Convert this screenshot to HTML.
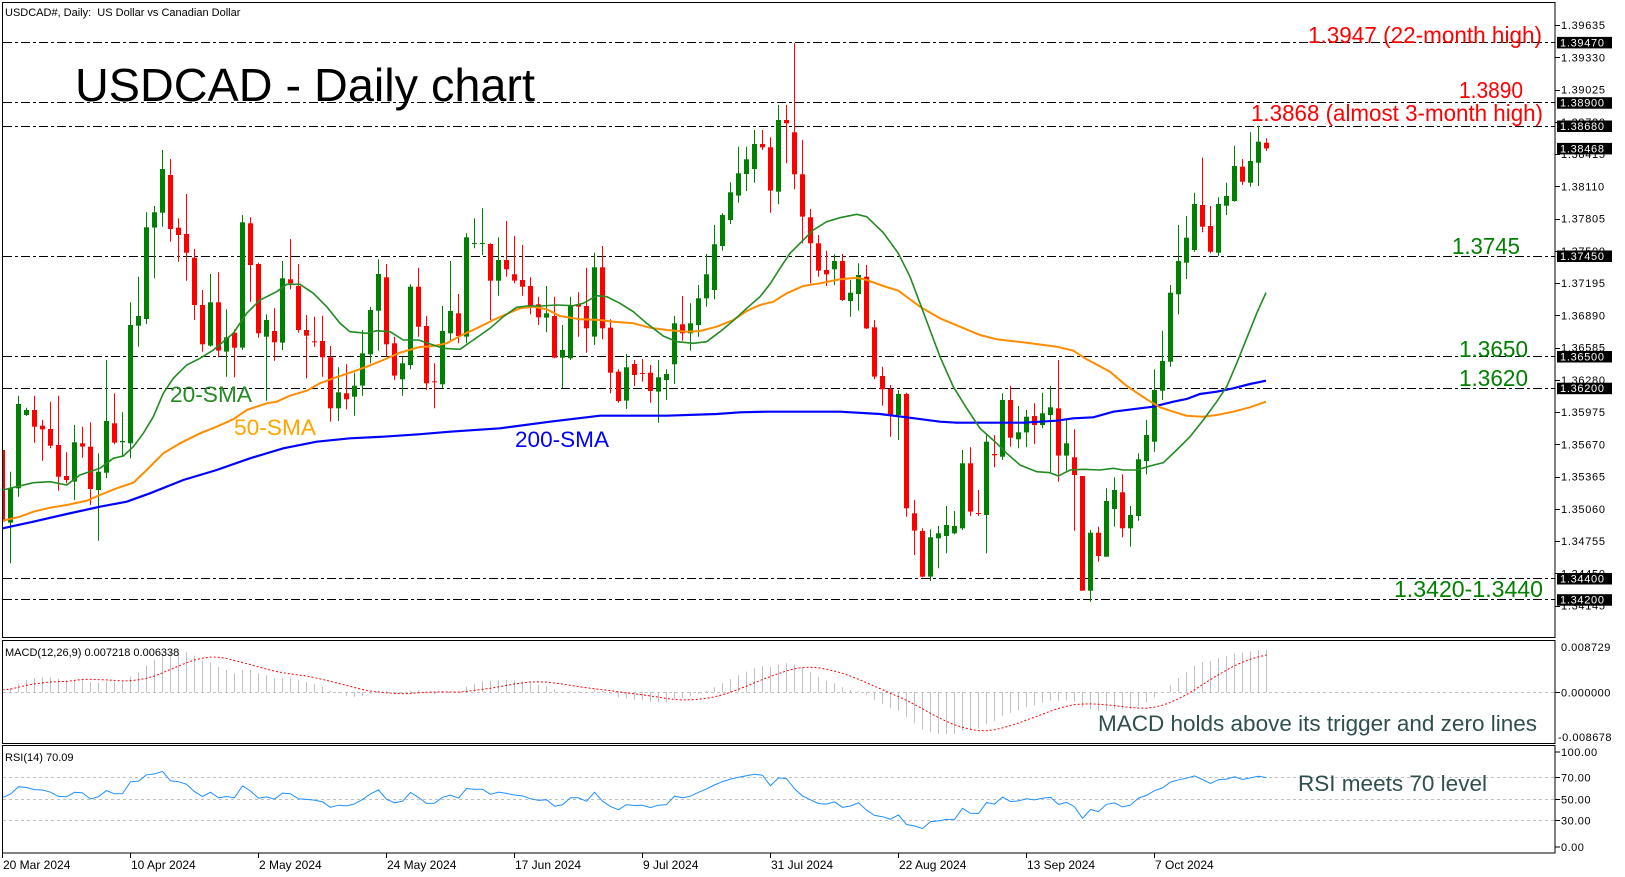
<!DOCTYPE html>
<html><head><meta charset="utf-8">
<style>
html,body{margin:0;padding:0;background:#fff;}
svg{display:block;font-family:"Liberation Sans",Arial,sans-serif;}
</style></head>
<body>
<svg id="s" xmlns="http://www.w3.org/2000/svg" width="1625" height="877" viewBox="0 0 1625 877">
<defs>
<clipPath id="cm"><rect x="3" y="3" width="1552" height="634"/></clipPath>
<clipPath id="cmacd"><rect x="3" y="641" width="1552" height="102"/></clipPath>
<clipPath id="crsi"><rect x="3" y="746" width="1552" height="107"/></clipPath>
</defs>
<rect width="1625" height="877" fill="#fff"/>

<g stroke="#000" stroke-width="1" stroke-dasharray="9,3,3,3" fill="none">
<line x1="3" x2="1555" y1="42.5" y2="42.5"/>
<line x1="3" x2="1555" y1="102.5" y2="102.5"/>
<line x1="3" x2="1555" y1="126.5" y2="126.5"/>
<line x1="3" x2="1555" y1="256.5" y2="256.5"/>
<line x1="3" x2="1555" y1="356.5" y2="356.5"/>
<line x1="3" x2="1555" y1="388.5" y2="388.5"/>
<line x1="3" x2="1555" y1="578.5" y2="578.5"/>
<line x1="3" x2="1555" y1="599.5" y2="599.5"/>
</g>

<g stroke="#c0c0c0" stroke-width="1" stroke-dasharray="3,3">
<line x1="3" x2="1555" y1="692.5" y2="692.5"/>
<line x1="3" x2="1555" y1="777.5" y2="777.5"/>
<line x1="3" x2="1555" y1="799.5" y2="799.5"/>
<line x1="3" x2="1555" y1="820.5" y2="820.5"/>
</g>

<g id="dyn"></g>

<g fill="none" stroke="#000" stroke-width="1">
<rect x="2.5" y="2.5" width="1552.5" height="635"/>
<rect x="2.5" y="640.5" width="1552.5" height="103"/>
<rect x="2.5" y="745.5" width="1552.5" height="107.5"/>
</g>

<text x="5" y="16" font-size="11" fill="#000">USDCAD#, Daily:&#160; US Dollar vs Canadian Dollar</text>
<text x="75" y="101" font-size="46" fill="#000" textLength="460" lengthAdjust="spacingAndGlyphs">USDCAD - Daily chart</text>

<g font-size="23" fill="#ff0000">
<text x="1308" y="43" textLength="234" lengthAdjust="spacingAndGlyphs">1.3947 (22-month high)</text>
<text x="1459" y="98" textLength="64" lengthAdjust="spacingAndGlyphs">1.3890</text>
<text x="1251" y="121" textLength="292" lengthAdjust="spacingAndGlyphs">1.3868 (almost 3-month high)</text>
</g>
<g font-size="23" fill="#008000">
<text x="1452" y="254" textLength="68" lengthAdjust="spacingAndGlyphs">1.3745</text>
<text x="1459" y="357" textLength="69" lengthAdjust="spacingAndGlyphs">1.3650</text>
<text x="1459" y="386" textLength="69" lengthAdjust="spacingAndGlyphs">1.3620</text>
<text x="1394" y="597" textLength="149" lengthAdjust="spacingAndGlyphs">1.3420-1.3440</text>
</g>
<g font-size="22">
<text x="170" y="402" fill="#228b22" textLength="82" lengthAdjust="spacingAndGlyphs">20-SMA</text>
<text x="234" y="435" fill="#ffa500" textLength="82" lengthAdjust="spacingAndGlyphs">50-SMA</text>
<text x="515" y="447" fill="#0000ff" textLength="94" lengthAdjust="spacingAndGlyphs">200-SMA</text>
</g>
<text x="5" y="656" font-size="11" fill="#000">MACD(12,26,9) 0.007218 0.006338</text>
<text x="1098" y="731" font-size="22" fill="#2f4f4f" textLength="439" lengthAdjust="spacingAndGlyphs">MACD holds above its trigger and zero lines</text>
<text x="5" y="761" font-size="11" fill="#000">RSI(14) 70.09</text>
<text x="1298" y="791" font-size="22" fill="#2f4f4f" textLength="189" lengthAdjust="spacingAndGlyphs">RSI meets 70 level</text>

<g id="axis"></g>
</svg>

<script>
(function(){
var dyn=document.getElementById('dyn');
var axis=document.getElementById('axis');
function Y(p){return 25+(1.39635-p)*10574;}
function P(y){return 1.39635-(y-25)/10574;}

var A=[[960,1175,955,1180],[1178,1075,1025,1300],[1075,822,797,1100],[855,840,833,858],[840,890,797,938],[887,898,870,992],[897,947,815,955],[945,1040,797,1082],[1038,1050,967,1060],[1055,937,885,1110],[940,950,890,983],[950,1077,877,1125],[1080,1025,970,1232],[1028,873,690,1045],[880,938,790,943],[937,933,847,980],[940,585,517,985],[587,558,440,650],[567,292,247,582],[293,247,228,445],[248,117,60,290],[135,297,87,335],[293,315,265,395],[312,368,192,452],[383,525,357,570],[525,643,480,665],[647,517,432,650],[517,662,427,682],[665,622,538,740],[608,653,598,742],[653,277,255,660],[280,405,262,515],[402,610,398,623],[620,570,553,812],[603,637,535,692],[638,445,393,660],[448,460,327,478],[468,600,402,608],[600,617,555,745],[634,636,560,650],[633,682,557,740],[682,835,648,875],[835,787,712,873],[790,808,703,838],[800,767,728,857],[767,670,600,797],[673,540,530,700],[542,432,388,662],[442,643,402,680],[640,737,620,750],[748,700,680,797],[705,470,463,718],[470,590,413,620]];
var B=[[888,1060,858,1080],[1054,1057,1000,1135],[1063,903,828,1075],[910,843,693,930],[850,918,792,940],[920,622,610,940],[641,639,565,655],[641,639,535,675],[642,752,640,870],[752,690,622,797],[690,718,573,740],[733,752,618,760],[750,770,645,797],[768,828,742,853],[823,862,800,885],[863,850,768,907],[858,983,800,985],[983,960,885,1075],[985,828,800,990],[823,830,787,920],[828,895,713,968],[920,712,668,945],[712,895,648,928],[893,1028,868,1090],[1025,1113,1018,1118],[1112,1012,972,1137],[1002,1035,990,1068],[1029,1031,987,1055],[1028,1083,1005,1118],[1085,1042,990,1178],[1050,1032,1018,1110],[1003,880,858,1062],[883,910,798,932],[910,880,820,962],[885,805,765,920],[805,733,672,830],[780,643,585,808],[648,555,550,662],[570,487,457,582],[497,430,350,518],[432,388,350,483],[417,342,300,458],[342,352,300,360],[352,482,322,548],[485,270,225,523],[270,280,225,400],[307,433,40,478],[433,560,330,640],[562,640,537,760],[640,722,615,740],[720,733,662,768],[718,693,673,765]];
var C=[[483,600,462,603],[603,578,540,650],[582,525,490,632],[530,685,495,687],[682,830,660,838],[828,868,800,917],[867,945,855,1010],[945,882,870,1020],[882,1225,878,1250],[1240,1292,1200,1365],[1293,1430,1285,1432],[1430,1312,1288,1443],[1315,1300,1278,1405],[1308,1275,1218,1360],[1300,1278,1233,1303],[1285,1090,1050,1290],[1090,1235,1042,1248],[1239,1241,1170,1248],[1245,1025,1000,1360],[1062,1066,1005,1102],[1070,900,880,1080],[900,1013,857,1040],[1018,997,918,1045],[997,950,930,1042],[948,975,910,1032],[975,940,878,985],[945,922,857,1115],[925,1067,780,1145],[1067,1030,960,1112],[1072,1125,988,1292],[1128,1472,1128,1472],[1472,1298,1290,1505],[1298,1368,1280,1385],[1370,1203,1165,1370],[1227,1170,1132,1280],[1177,1285,1123,1312],[1285,1245,1218,1340],[1248,1078,1060,1262],[1083,1005,960,1123],[1025,870,808,1055],[872,783,692,900],[785,578,555,800],[583,483,375,643],[488,413,348,537],[450,312,278,455],[315,380,173,397],[378,455,318,460],[458,312,292,468],[317,288,248,345],[303,198,137,305],[200,245,177,255],[248,183,97,260],[188,125,77,258],[128,145,115,153]];

var bars=[];
A.forEach(function(b){bars.push(b.map(function(v){return 130+v/3;}));});
B.forEach(function(b){bars.push(b.map(function(v){return 30+v/3;}));});
C.forEach(function(b){bars.push(b.map(function(v){return 100+v/3;}));});

function r(v){return Math.round(v*10)/10;}
var h='';

function pts(list,ox,oy){return list.map(function(p){return r(ox+p[0]/3)+','+r(oy+p[1]/3);}).join(' ');}
var s20=pts([[8,1080],[100,1058],[150,1055],[200,1065],[240,1035],[300,1015],[340,985],[370,978],[400,950],[430,910],[460,860],[490,790],[520,745],[560,705],[600,685],[640,660],[700,610],[740,550],[780,510],[830,485],[860,463],[900,463],[940,490],[980,530],[1020,580],[1050,605],[1100,610],[1130,602],[1170,605],[1210,630],[1256,630]],0,130)+' '+
 pts([[100,945],[130,955],[180,958],[220,930],[270,895],[310,860],[350,832],[380,828],[420,828],[470,825],[520,827],[550,820],[590,797],[620,800],[660,820],[700,845],[740,880],[790,918],[830,935],[880,940],[920,935],[960,905],[1000,872],[1040,835],[1080,800],[1110,762],[1140,715],[1170,670],[1200,640],[1240,600],[1280,575],[1320,563]],400,30)+' '+
 pts([[50,343],[80,350],[130,398],[175,460],[210,530],[240,610],[270,690],[300,770],[340,860],[380,925],[420,985],[470,1030],[500,1060],[540,1095],[590,1115],[630,1118],[655,1128],[690,1110],[730,1108],[780,1110],[820,1105],[850,1110],[890,1110],[930,1098],[970,1088],[1010,1050],[1050,1010],[1090,960],[1130,905],[1160,860],[1190,790],[1220,715],[1250,640],[1278,578]],840,100);
var s50=pts([[8,1172],[60,1160],[100,1145],[150,1133],[200,1125],[260,1112],[300,1095],[350,1075],[400,1058],[440,1020],[490,970],[540,940],[600,910],[650,890],[700,868],[740,840],[800,820],[830,815],[870,797],[920,782],[960,760],[1000,745],[1050,728],[1100,710],[1150,690],[1200,668],[1256,652]],0,130)+' '+
 pts([[100,948],[140,940],[180,918],[230,895],[280,870],[320,852],[360,835],[400,830],[440,838],[480,858],[540,868],[600,870],[640,875],[700,880],[750,893],[800,900],[860,905],[900,903],[950,890],[1000,870],[1040,843],[1080,825],[1120,815],[1160,790],[1210,768],[1260,760],[1320,748]],400,30)+' '+
 pts([[50,533],[80,540],[130,558],[175,572],[240,620],[300,655],[360,680],[420,705],[470,718],[560,728],[650,740],[700,752],[740,778],[810,815],[860,858],[920,898],[960,922],[1000,935],[1040,947],[1090,950],[1130,945],[1180,935],[1230,922],[1278,905]],840,100);
var s200=pts([[8,1195],[100,1175],[200,1152],[300,1130],[380,1115],[450,1090],[550,1050],[650,1020],[750,985],[850,955],[950,935],[1050,925],[1150,920],[1256,913]],0,130)+' '+
 pts([[150,1205],[300,1195],[450,1175],[600,1157],[700,1157],[800,1157],[950,1152],[1020,1147],[1100,1145],[1320,1145]],400,30)+' '+
 pts([[120,942],[200,952],[300,965],[350,968],[450,968],[550,968],[650,962],[700,955],[760,952],[820,935],[900,925],[940,920],[1000,905],[1040,897],[1080,882],[1130,875],[1180,865],[1230,852],[1278,842]],840,100);

h+='<g clip-path="url(#cm)">';
bars.forEach(function(b,i){
  var o=b[0],c=b[1],hi=b[2],lo=b[3];
  var cx=8*i+2.5;
  var up=c<=o;
  var col=up?'#008000':'#ff0000';
  h+='<line x1="'+cx+'" y1="'+r(hi)+'" x2="'+cx+'" y2="'+r(lo)+'" stroke="'+col+'" stroke-width="1"/>';
  var top=Math.min(o,c), ht=Math.max(1,Math.abs(o-c));
  h+='<rect x="'+(8*i)+'" y="'+r(top)+'" width="5" height="'+r(ht)+'" fill="'+col+'"/>';
});
h+='<polyline points="'+s200+'" fill="none" stroke="#0000ff" stroke-width="2.2"/>';
h+='<polyline points="'+s50+'" fill="none" stroke="#ff8c00" stroke-width="2"/>';
h+='<polyline points="'+s20+'" fill="none" stroke="#228b22" stroke-width="1.6"/>';
h+='</g>';

var closes=bars.map(function(b){return P(b[1]);});
var e12=closes[0]-0.0004,e26=closes[0]-0.0008,macd=[];
closes.forEach(function(c,i){ e12+=(c-e12)*2/13; e26+=(c-e26)*2/27; macd.push(e12-e26);});
function MY(m){return 641+(0.008729-m)/0.017407*102;}
var sig=[];
macd.forEach(function(m,i){var s=0,n=0;for(var k=Math.max(0,i-8);k<=i;k++){s+=macd[k];n++;}sig.push(s/n);});
h+='<g clip-path="url(#cmacd)">';
var z=MY(0);
macd.forEach(function(m,i){var cx=8*i+2.5;h+='<line x1="'+cx+'" y1="'+r(z)+'" x2="'+cx+'" y2="'+r(MY(m))+'" stroke="#c0c0c0" stroke-width="1"/>';});
h+='<polyline points="'+sig.map(function(s,i){return (8*i+2.5)+','+r(MY(s));}).join(' ')+'" fill="none" stroke="#ff0000" stroke-width="1" stroke-dasharray="2,2"/>';
h+='</g>';

var ag=0.0018,al=0.0017,rsi=[];
closes.forEach(function(c,i){
  if(i>0){var ch=c-closes[i-1];ag=(ag*13+Math.max(ch,0))/14;al=(al*13+Math.max(-ch,0))/14;}
  rsi.push(100-100/(1+ag/al));
});
h+='<g clip-path="url(#crsi)"><polyline points="'+rsi.map(function(v,i){return (8*i+2.5)+','+r(853-1.08*v);}).join(' ')+'" fill="none" stroke="#1e90ff" stroke-width="1"/></g>';
dyn.innerHTML=h;

var a='';
var ticks=[1.39635,1.39330,1.39025,1.38720,1.38415,1.38110,1.37805,1.37500,1.37195,1.36890,1.36585,1.36280,1.35975,1.35670,1.35365,1.35060,1.34755,1.34450,1.34145];
ticks.forEach(function(t){var y=Y(t);a+='<line x1="1555" x2="1560" y1="'+(Math.round(y)+0.5)+'" y2="'+(Math.round(y)+0.5)+'" stroke="#000"/>';
 a+='<text x="1561" y="'+r(y+4)+'" font-size="11" letter-spacing="0.7" fill="#000">'+t.toFixed(5)+'</text>';});
var boxes=[1.39470,1.38900,1.38680,1.38468,1.37450,1.36500,1.36200,1.34400,1.34200];
boxes.forEach(function(t){var y=Y(t);a+='<rect x="1557" y="'+r(y-5.5)+'" width="55" height="11.5" fill="#000"/>';
 a+='<text x="1560" y="'+r(y+4)+'" font-size="11" letter-spacing="0.7" fill="#fff">'+t.toFixed(5)+'</text>';});
a+='<line x1="1555" x2="1560" y1="692.5" y2="692.5" stroke="#000"/>';
a+='<text x="1561" y="651" font-size="11" letter-spacing="0.5" fill="#000">0.008729</text>';
a+='<text x="1561" y="696.5" font-size="11" letter-spacing="0.5" fill="#000">0.000000</text>';
a+='<text x="1558" y="741" font-size="11" letter-spacing="0.5" fill="#000">-0.008678</text>';
[[100,752],[70,777.5],[50,799.5],[30,820.5],[0,847]].forEach(function(p){
  a+='<line x1="1555" x2="1560" y1="'+p[1]+'" y2="'+p[1]+'" stroke="#000"/>';
  a+='<text x="1561" y="'+(p[1]+4)+'" font-size="11" letter-spacing="0.5" fill="#000">'+p[0].toFixed(2)+'</text>';
});
var xl=[[2.5,'20 Mar 2024'],[130.5,'10 Apr 2024'],[258.5,'2 May 2024'],[386.5,'24 May 2024'],[514.5,'17 Jun 2024'],[642.5,'9 Jul 2024'],[770.5,'31 Jul 2024'],[898.5,'22 Aug 2024'],[1026.5,'13 Sep 2024'],[1154.5,'7 Oct 2024']];
xl.forEach(function(p){
  a+='<line x1="'+p[0]+'" x2="'+p[0]+'" y1="853" y2="858" stroke="#000"/>';
  a+='<text x="'+(p[0]+0.5)+'" y="869" font-size="12" fill="#000">'+p[1]+'</text>';
});
axis.innerHTML=a;
})();
</script>
</body></html>
